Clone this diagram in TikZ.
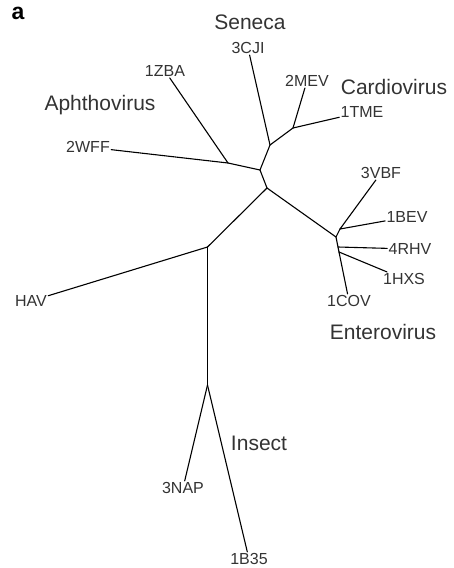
\documentclass[tikz,border=0pt]{standalone}
\usepackage{fontspec}
\setmainfont{Liberation Sans}
\usepackage{tikz}
\usetikzlibrary{positioning}
\usepackage{xcolor}
\definecolor{labelgray}{HTML}{333333}

\begin{document}
\begin{tikzpicture}[x=1pt,y=-1pt,
    leaf/.style={inner sep=1.2pt, text=labelgray, font=\fontsize{16}{18}\selectfont},
    clade/.style={inner sep=0pt, text=labelgray, font=\fontsize{21}{24}\selectfont},
    branch/.style={line width=1.1pt, line cap=round, line join=round}]
    \useasboundingbox (0,0) rectangle (454,568);
    \node (panel) at (18,13) {\fontsize{23}{25}\selectfont\bfseries a};

    \coordinate (root) at (267,188);
    \coordinate (upper) at (260,170);
    \coordinate (sencar) at (270,145);
    \coordinate (cardio) at (293,128);
    \coordinate (aphtho) at (228,163);
    \coordinate (entero) at (336,237);
    \coordinate (entA) at (340,229);
    \coordinate (entB) at (338,247);
    \coordinate (entC) at (339,252);
    \coordinate (havins) at (207.5,247);
    \coordinate (insect) at (207.5,385);

    \node (cji) [leaf] at (248,48) {3CJI};
    \node (zba) [leaf] at (165,71) {1ZBA};
    \node (wff) [leaf] at (88,147) {2WFF};
    \node (mev) [leaf] at (307,81) {2MEV};
    \node (tme) [leaf] at (362,112) {1TME};
    \node (vbf) [leaf] at (381,173) {3VBF};
    \node (bev) [leaf] at (407,217) {1BEV};
    \node (rhv) [leaf] at (410,249) {4RHV};
    \node (hxs) [leaf] at (404,279) {1HXS};
    \node (cov) [leaf] at (349,301) {1COV};
    \node (hav) [leaf] at (31,301) {HAV};
    \node (nap) [leaf] at (183,488) {3NAP};
    \node (bts) [leaf] at (249,559) {1B35};

    \node (seneca) [clade] at (250,22) {Seneca};
    \node (cardiolab) [clade] at (394,87) {Cardiovirus};
    \node (aphtholab) [clade] at (100,105) {Aphthovirus};
    \node (enterolab) [clade] at (383,332) {Enterovirus};
    \node (insectlab) [clade] at (259,443) {Insect};

    \draw[branch] (root) -- (upper);
    \draw[branch] (upper) -- (sencar);
    \draw[branch] (upper) -- (aphtho);
    \draw[branch] (sencar) -- (cji);
    \draw[branch] (sencar) -- (cardio);
    \draw[branch] (cardio) -- (mev);
    \draw[branch] (cardio) -- (tme);
    \draw[branch] (aphtho) -- (zba);
    \draw[branch] (aphtho) -- (wff);
    \draw[branch] (root) -- (entero);
    \draw[branch] (entero) -- (entA);
    \draw[branch] (entA) -- (vbf);
    \draw[branch] (entA) -- (bev);
    \draw[branch] (entero) -- (entB) -- (entC);
    \draw[branch] (entB) -- (rhv);
    \draw[branch] (entC) -- (hxs);
    \draw[branch] (entC) -- (cov);
    \draw[branch] (root) -- (havins);
    \draw[branch] (havins) -- (hav);
    \draw[branch] (havins) -- (insect);
    \draw[branch] (insect) -- (nap);
    \draw[branch] (insect) -- (bts);
\end{tikzpicture}
\end{document}
